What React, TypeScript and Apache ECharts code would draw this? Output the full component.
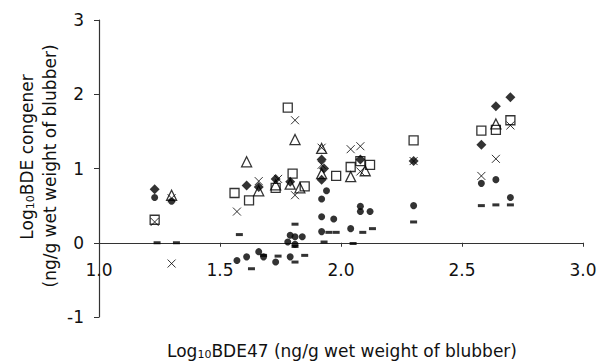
import React, { useEffect, useRef } from "react";
import * as echarts from "echarts";

const xTicks = ["1.0", "1.5", "2.0", "2.5", "3.0"];
const yTicks = ["-1", "0", "1", "2", "3"];

const diamonds: number[][] = [
  [1.23, 0.72], [1.61, 0.77], [1.66, 0.75], [1.73, 0.86], [1.79, 0.82],
  [1.92, 1.12], [1.92, 0.85], [1.93, 1.0], [2.08, 1.12], [2.30, 1.10],
  [2.58, 1.32], [2.64, 1.84], [2.70, 1.96],
];
const squares: number[][] = [
  [1.23, 0.31], [1.56, 0.67], [1.62, 0.57], [1.73, 0.74], [1.78, 1.82],
  [1.80, 0.93], [1.85, 0.76], [1.98, 0.90], [2.04, 1.02], [2.08, 1.10],
  [2.12, 1.05], [2.30, 1.38], [2.58, 1.51], [2.64, 1.52], [2.70, 1.65],
];
const triangles: number[][] = [
  [1.30, 0.64], [1.61, 1.09], [1.66, 0.70], [1.73, 0.78], [1.81, 1.39],
  [1.79, 0.79], [1.83, 0.74], [1.92, 1.27], [1.92, 0.93], [2.04, 0.89],
  [2.10, 0.97], [2.64, 1.60],
];
const crosses: number[][] = [
  [1.23, 0.28], [1.30, 0.60], [1.30, -0.28], [1.57, 0.42], [1.66, 0.83],
  [1.74, 0.86], [1.81, 1.65], [1.81, 0.64], [1.92, 1.28], [1.92, 1.05],
  [2.04, 1.26], [2.08, 1.30], [2.08, 0.96], [2.30, 1.10], [2.58, 0.90],
  [2.64, 1.13], [2.70, 1.58],
];
const circles: number[][] = [
  [1.23, 0.61], [1.30, 0.56], [1.57, -0.24], [1.61, -0.19], [1.66, -0.12],
  [1.68, -0.19], [1.73, -0.26], [1.78, 0.01], [1.79, 0.10], [1.81, 0.08],
  [1.84, 0.08], [1.81, -0.02], [1.79, -0.19], [1.92, 0.59], [1.94, 0.70],
  [1.92, 0.35], [1.97, 0.32], [1.92, 0.15], [2.04, 0.19], [2.08, 0.49],
  [2.08, 0.42], [2.12, 0.42], [2.30, 0.50], [2.58, 0.80], [2.64, 0.85],
  [2.70, 0.61],
];
const dashes: number[][] = [
  [1.24, 0.0], [1.32, 0.0], [1.58, 0.11], [1.63, -0.35], [1.68, -0.17],
  [1.74, -0.18], [1.81, 0.25], [1.81, -0.05], [1.85, -0.17], [1.81, -0.26],
  [1.93, 0.01], [1.95, 0.14], [1.98, 0.14], [2.05, -0.01], [2.09, 0.14],
  [2.13, 0.19], [2.30, 0.28], [2.58, 0.50], [2.64, 0.51], [2.70, 0.51],
];

const FONT = "DejaVu Sans, Verdana, sans-serif";
const TXT = "#111";

export default function App() {
  const ref = useRef<HTMLDivElement>(null);
  useEffect(() => {
    if (!ref.current) return;
    const chart = echarts.init(ref.current, undefined, { renderer: "svg" });
    const open = { color: "transparent", borderColor: "#000", borderWidth: 1.3 };
    const gridTop = 20;
    const gridBottom = 45;
    const plotH = 362 - gridTop - gridBottom;
    const zeroOffset = -plotH * (0 - -1) / (3 - -1);
    const sub = { fontSize: 11, verticalAlign: "bottom", fontFamily: FONT, fill: TXT };
    chart.setOption({
      animation: false,
      backgroundColor: "#fff",
      grid: { left: 99, right: 17, top: gridTop, bottom: gridBottom },
      xAxis: {
        type: "value",
        min: 1,
        max: 3,
        interval: 0.5,
        offset: zeroOffset,
        splitLine: { show: false },
        axisLine: { onZero: false, lineStyle: { color: "#333", width: 1.2 } },
        axisTick: { show: true, length: 4, lineStyle: { color: "#333" } },
        axisLabel: {
          margin: 19,
          color: TXT,
          fontSize: 17,
          fontFamily: FONT,
          formatter: (v: number) => xTicks[Math.round((v - 1) / 0.5)] ?? "",
        },
      },
      yAxis: {
        type: "value",
        min: -1,
        max: 3,
        interval: 1,
        splitLine: { show: false },
        axisLine: { show: true, onZero: false, lineStyle: { color: "#333", width: 1.2 } },
        axisTick: { show: true, length: 5, lineStyle: { color: "#333" } },
        axisLabel: {
          margin: 15,
          color: TXT,
          fontSize: 17,
          fontFamily: FONT,
          formatter: (v: number) => yTicks[Math.round(v + 1)] ?? "",
        },
      },
      graphic: [
        {
          type: "text",
          x: 342,
          y: 351,
          style: {
            text: "Log{s|10}BDE47 (ng/g wet weight of blubber)",
            fontSize: 17,
            fontFamily: FONT,
            fill: TXT,
            align: "center",
            verticalAlign: "middle",
            rich: { s: sub },
          },
        },
        {
          type: "text",
          x: 27,
          y: 157,
          rotation: Math.PI / 2,
          style: {
            text: "Log{s|10}BDE congener",
            fontSize: 17,
            fontFamily: FONT,
            fill: TXT,
            align: "center",
            verticalAlign: "middle",
            rich: { s: sub },
          },
        },
        {
          type: "text",
          x: 50,
          y: 166,
          rotation: Math.PI / 2,
          style: {
            text: "(ng/g wet weight of blubber)",
            fontSize: 17,
            fontFamily: FONT,
            fill: TXT,
            align: "center",
            verticalAlign: "middle",
          },
        },
      ],
      series: [
        { type: "scatter", data: dashes, symbol: "rect", symbolSize: [7, 3], itemStyle: { color: "#000" } },
        { type: "scatter", data: circles, symbol: "circle", symbolSize: 7, itemStyle: { color: "#000" } },
        { type: "scatter", data: squares, symbol: "rect", symbolSize: 9, itemStyle: open },
        { type: "scatter", data: triangles, symbol: "triangle", symbolSize: 10, itemStyle: open },
        {
          type: "scatter",
          data: crosses,
          symbol: "path://M0 0L10 10M10 0L0 10",
          symbolSize: 8,
          itemStyle: { color: "transparent", borderColor: "#000", borderWidth: 1 },
        },
        { type: "scatter", data: diamonds, symbol: "diamond", symbolSize: 10, itemStyle: { color: "#000" } },
      ],
    });
    return () => chart.dispose();
  }, []);
  return (
    <div
      ref={ref}
      style={{ position: "absolute", left: 0, top: 0, width: 600, height: 362 }}
    />
  );
}
